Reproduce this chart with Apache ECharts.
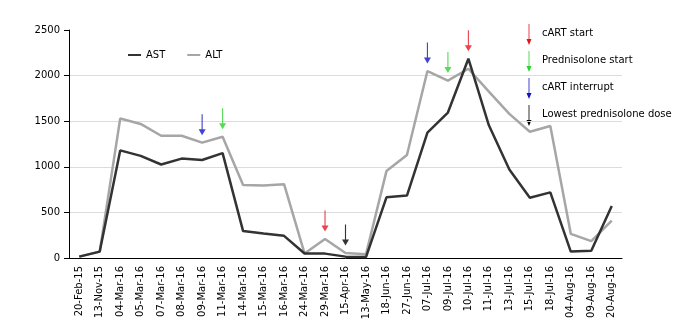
<!DOCTYPE html>
<html>
<head>
<meta charset="utf-8">
<script src="https://cdn.jsdelivr.net/npm/echarts@6/dist/echarts.min.js"></script>
<style>
  html, body { margin: 0; padding: 0; background: #fff; }
  #chart { width: 693px; height: 329px; }
</style>
</head>
<body>
<div id="chart"></div>
<script>
// Sampling dates (category axis)
const dates = ['20-Feb-15','13-Nov-15','04-Mar-16','05-Mar-16','07-Mar-16','08-Mar-16','09-Mar-16',
  '11-Mar-16','14-Mar-16','15-Mar-16','16-Mar-16','24-Mar-16','29-Mar-16','15-Apr-16','13-May-16',
  '18-Jun-16','27-Jun-16','07-Jul-16','09-Jul-16','10-Jul-16','11-Jul-16','13-Jul-16','15-Jul-16',
  '18-Jul-16','04-Aug-16','09-Aug-16','20-Aug-16'];

// Liver enzymes (U/L)
const ast = [15, 70, 1180, 1120, 1025, 1090, 1075, 1150, 295, 268, 243, 50, 48, 15, 10,
  665, 685, 1375, 1595, 2185, 1455, 970, 660, 720, 70, 80, 570];
const alt = [15, 70, 1530, 1470, 1340, 1340, 1265, 1330, 800, 795, 810, 50, 208, 55, 40,
  953, 1130, 2050, 1945, 2075, 1825, 1580, 1384, 1448, 265, 185, 410];

// Treatment events marked above the curves
const eventDates = ['09-Mar-16','11-Mar-16','29-Mar-16','15-Apr-16','07-Jul-16','09-Jul-16','10-Jul-16'];
const eventTypes = ['cART interrupt','Prednisolone start','cART start','Lowest prednisolone dose',
  'cART interrupt','Prednisolone start','cART start'];

// Event legend order
const eventLegend = ['cART start','Prednisolone start','cART interrupt','Lowest prednisolone dose'];
const eventColors = {
  'cART start': '#e3141f',
  'Prednisolone start': '#2bd22b',
  'cART interrupt': '#1414c4',
  'Lowest prednisolone dose': '#000000'
};

const FONT = 'DejaVu Sans';
const ARROW = 'path://M2.6,0 L3.4,0 L3.4,15 L5.5,15 L3,21 L0.5,15 L2.6,15 Z';

const chart = echarts.init(document.getElementById('chart'));

// One scatter point per event, sitting on top of the higher of the two curves
const eventPoints = eventDates.map((d, k) => {
  const i = dates.indexOf(d);
  return {
    value: [d, Math.max(ast[i], alt[i])],
    itemStyle: { color: eventColors[eventTypes[k]] }
  };
});

// Down-arrow outline for the event legend, relative to its top-left corner
function arrowPoints(x, y) {
  return [[x + 2.6, y], [x + 3.4, y], [x + 3.4, y + 15], [x + 5.5, y + 15],
          [x + 3, y + 21], [x + 0.5, y + 15], [x + 2.6, y + 15]];
}

// Right-hand event legend built as graphics
const legendGraphics = [];
eventLegend.forEach((name, k) => {
  const y0 = 24 + k * 27;
  legendGraphics.push({
    type: 'polygon',
    shape: { points: arrowPoints(526, y0) },
    style: { fill: eventColors[name] },
    silent: true
  });
  legendGraphics.push({
    type: 'text',
    x: 542, y: y0 + 9,
    style: { text: name, fill: '#000', font: '10px "' + FONT + '"', verticalAlign: 'middle' },
    silent: true
  });
});

chart.setOption({
  animation: false,
  backgroundColor: '#fff',
  textStyle: { fontFamily: FONT },
  grid: { left: 69, right: 71, top: 30, bottom: 71 },
  legend: {
    data: ['AST', 'ALT'],
    left: 123, top: 45,
    icon: 'rect',
    itemWidth: 13, itemHeight: 2,
    itemGap: 22,
    textStyle: { fontFamily: FONT, fontSize: 10, color: '#000' }
  },
  xAxis: {
    type: 'category',
    data: dates,
    boundaryGap: true,
    axisLine: { lineStyle: { color: '#000', width: 1 } },
    axisTick: { inside: true, length: 4, interval: 0, lineStyle: { color: '#000' } },
    axisLabel: { rotate: 90, interval: 0, fontSize: 10, color: '#000', margin: 8, fontFamily: FONT },
    splitLine: { show: false }
  },
  yAxis: {
    type: 'value',
    min: 0, max: 2500, interval: 500,
    axisLine: { show: true, lineStyle: { color: '#000', width: 1 } },
    axisTick: { show: true, length: 5, lineStyle: { color: '#000' } },
    axisLabel: { fontSize: 10, color: '#000', margin: 9, fontFamily: FONT, formatter: v => String(v) },
    splitLine: { show: true, lineStyle: { color: ['transparent', '#dcdcdc', '#dcdcdc', '#dcdcdc', '#dcdcdc', 'transparent'], width: 1 } }
  },
  series: [
    {
      name: 'AST', type: 'line', data: ast,
      symbol: 'none',
      lineStyle: { color: '#333333', width: 2.5 },
      itemStyle: { color: '#333333' },
      z: 3
    },
    {
      name: 'ALT', type: 'line', data: alt,
      symbol: 'none',
      lineStyle: { color: '#a6a6a6', width: 2.5 },
      itemStyle: { color: '#a6a6a6' },
      z: 2
    },
    {
      name: 'events', type: 'scatter',
      data: eventPoints,
      symbol: ARROW,
      symbolSize: [7, 21],
      symbolOffset: [0, -18],
      z: 4,
      silent: true
    }
  ],
  graphic: legendGraphics
});
</script>
</body>
</html>
